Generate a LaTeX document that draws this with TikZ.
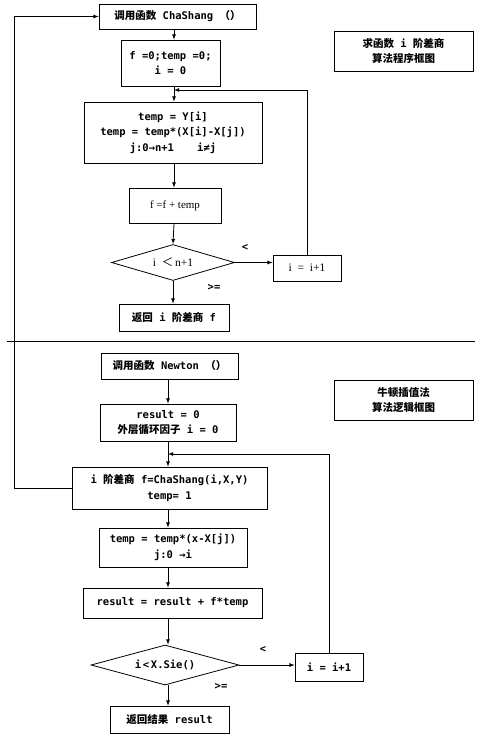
\documentclass[tikz,border=0pt]{standalone}
\usepackage{fontspec}
\setmainfont{DejaVu Sans Mono}
\newfontfamily\cjk{Noto Sans CJK SC}
\newfontfamily\timesfont{Liberation Serif}
\newcommand{\zh}[1]{{\cjk #1}}
\usetikzlibrary{shapes.geometric}
\usetikzlibrary{calc}

\begin{document}
\begin{tikzpicture}[x=1pt, y=-1pt,
		box/.style={draw, line width=0.8pt, inner sep=0pt, align=center, font=\bfseries\fontsize{10.5}{15.5}\selectfont},
		test/.style={draw, diamond, line width=0.8pt, inner sep=0pt, font=\bfseries\fontsize{10.5}{15.5}\selectfont},
		note/.style={font=\bfseries\fontsize{10.5}{12}\selectfont}]
			\useasboundingbox (0,0) rectangle (479,736);
			\coordinate (up) at (174,0);
			\coordinate (low) at (168,0);
			\coordinate (back) at (14,0);
			% upper chart
			\node[box, minimum width=157pt, minimum height=25pt] (call1) at (177.5,16.5) {\zh{调用函数} ChaShang \zh{（）}};
			\node[box, minimum width=99pt, minimum height=46pt] (init1) at (170.5,63) {f =0;temp =0;\\i = 0};
			\node[box, minimum width=178pt, minimum height=61pt] (temp1) at (173,132.5) {temp = Y[i]\\temp = temp*(X[i]-X[j])\\j:0→n+1\quad\ \ i≠j};
			\node[box, minimum width=92pt, minimum height=35pt, font=\timesfont\fontsize{11}{13}\selectfont] (sum1) at (175,205.5) {f =f + temp};
			\node[test, aspect=3.4, minimum width=123pt, minimum height=36pt, font=\timesfont\fontsize{11.5}{13}\selectfont] (cond1) at (173,262.5) {i\ \ \zh{＜}\,n+1};
			\node[box, minimum width=68pt, minimum height=26pt, font=\timesfont\fontsize{11.5}{13}\selectfont] (inc1) at (307,268) {i\ \ =\ \ i+1};
			\node[box, minimum width=110pt, minimum height=27pt] (ret1) at (174,317.5) {\zh{返回} i \zh{阶差商} f};
			\node[box, minimum width=139pt, minimum height=40pt] (title1) at (403.5,51) {\zh{求函数} i \zh{阶差商}\\\zh{算法程序框图}};
			\node[note] (lt1) at (245,247) {<};
			\node[note] (ge1) at (214,287) {>=};
			\draw[-latex, line width=0.8pt] (call1.south -| up) -- (init1.north -| up);
			\draw[-latex, line width=0.8pt] (init1.south -| up) -- (temp1.north -| up);
			\draw[-latex, line width=0.8pt] (temp1.south -| up) -- (sum1.north -| up);
			\draw[-latex, line width=0.8pt] (sum1.south -| up) -- (cond1.north);
			\draw[-latex, line width=0.8pt] (cond1.south) -- (ret1.north -| cond1.south);
			\draw[-latex, line width=0.8pt] (cond1.east) -- (cond1.east -| inc1.west);
			\draw[-latex, line width=0.8pt] (inc1.north) |- ($(up)+(0,90)$);
			\draw (7,341) -- (475,341);
			% lower chart
			\node[box, minimum width=137pt, minimum height=26pt] (call2) at (169.5,366) {\zh{调用函数} Newton \zh{（）}};
			\node[box, minimum width=136pt, minimum height=37pt] (init2) at (168,422.5) {result = 0\\\zh{外层循环因子} i = 0};
			\node[box, minimum width=139pt, minimum height=40pt] (title2) at (403.5,400) {\zh{牛顿插值法}\\\zh{算法逻辑框图}};
			\node[box, minimum width=195pt, minimum height=42pt] (chs) at (169.5,488) {i \zh{阶差商} f=ChaShang(i,X,Y)\\temp= 1};
			\node[box, minimum width=148pt, minimum height=39pt] (temp2) at (173,547.5) {temp = temp*(x-X[j])\\j:0 →i};
			\node[box, minimum width=179pt, minimum height=30pt] (sum2) at (172.5,603) {result = result + f*temp};
			\node[test, aspect=3.7, minimum width=148pt, minimum height=40pt] (cond2) at (165,665) {i\,<\,X.Sie()};
			\node[box, minimum width=68pt, minimum height=28pt] (inc2) at (329,667) {i = i+1};
			\node[box, minimum width=119pt, minimum height=27pt] (ret2) at (169.5,719.5) {\zh{返回结果} result};
			\node[note] (lt2) at (263,649) {<};
			\node[note] (ge2) at (221,686) {>=};
			\draw[-latex, line width=0.8pt] (call2.south -| low) -- (init2.north -| low);
			\draw[-latex, line width=0.8pt] (init2.south -| low) -- (chs.north -| low);
			\draw[-latex, line width=0.8pt] (chs.south -| low) -- (temp2.north -| low);
			\draw[-latex, line width=0.8pt] (temp2.south -| low) -- (sum2.north -| low);
			\draw[-latex, line width=0.8pt] (sum2.south -| low) -- (cond2.north -| low);
			\draw[-latex, line width=0.8pt] (cond2.south -| low) -- (ret2.north -| low);
			\draw[-latex, line width=0.8pt] (cond2.east) -- (cond2.east -| inc2.west);
			\draw[-latex, line width=0.8pt] (inc2.north) |- ($(low)+(0,454)$);
			\draw[-latex, line width=0.8pt] (chs.west) -- (chs.west -| back) |- (call1.west);
		\end{tikzpicture}
\end{document}
